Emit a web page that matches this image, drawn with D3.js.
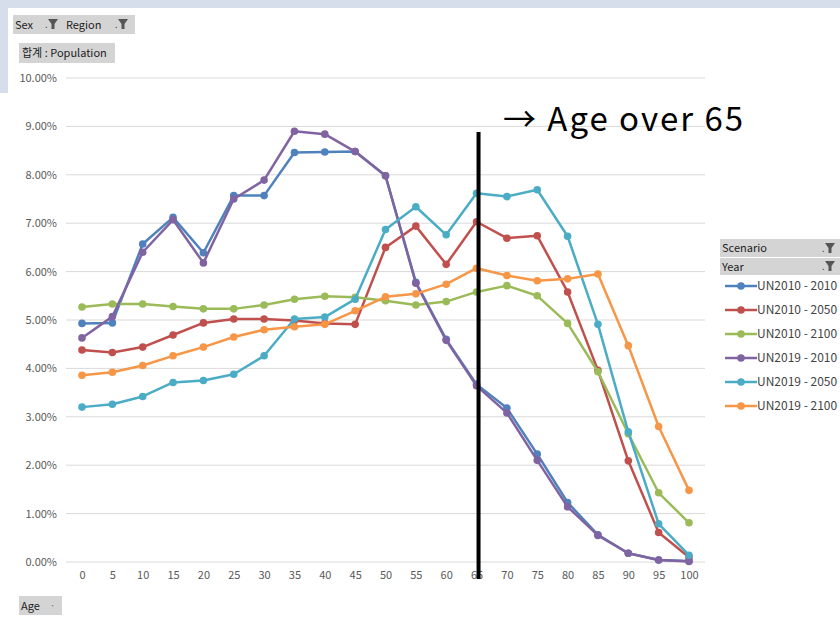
<!DOCTYPE html>
<html><head><meta charset="utf-8">
<script src="https://cdn.jsdelivr.net/npm/d3@7"></script>
<style>
body{margin:0;background:#fff;}
text{font-family:"Noto Sans CJK KR","Noto Sans",sans-serif;}
</style></head><body>
<svg id="chart" width="840" height="618"></svg>
<script>
const ages = [0,5,10,15,20,25,30,35,40,45,50,55,60,65,70,75,80,85,90,95,100];
const seriesNames = ["UN2010 - 2010","UN2010 - 2050","UN2010 - 2100","UN2019 - 2010","UN2019 - 2050","UN2019 - 2100"];
const seriesColors = ["#4F81BD","#C0504D","#9BBB59","#8064A2","#4BACC6","#F79646"];
const un2010_2010 = [4.93,4.94,6.57,7.12,6.39,7.57,7.57,8.46,8.47,8.48,7.98,5.78,4.60,3.67,3.18,2.23,1.23,0.56,0.18,0.04,0.02];
const un2010_2050 = [4.38,4.33,4.44,4.69,4.94,5.02,5.02,4.99,4.93,4.91,6.50,6.94,6.15,7.03,6.69,6.74,5.58,3.96,2.09,0.61,0.10];
const un2010_2100 = [5.27,5.33,5.33,5.28,5.23,5.23,5.31,5.43,5.49,5.47,5.40,5.31,5.38,5.58,5.71,5.50,4.93,3.93,2.65,1.43,0.81];
const un2019_2010 = [4.63,5.07,6.40,7.07,6.18,7.50,7.89,8.90,8.84,8.48,7.98,5.76,4.58,3.64,3.08,2.10,1.14,0.55,0.18,0.04,0.01];
const un2019_2050 = [3.20,3.26,3.42,3.71,3.75,3.88,4.26,5.02,5.06,5.43,6.87,7.34,6.76,7.62,7.55,7.69,6.73,4.91,2.69,0.79,0.14];
const un2019_2100 = [3.86,3.92,4.06,4.26,4.44,4.65,4.80,4.86,4.91,5.19,5.48,5.54,5.74,6.07,5.92,5.81,5.85,5.95,4.47,2.80,1.48];
const allSeries = [un2010_2010,un2010_2050,un2010_2100,un2019_2010,un2019_2050,un2019_2100];
const yTicks = [0,1,2,3,4,5,6,7,8,9,10];

const svg = d3.select("#chart");
// background frame
svg.append("rect").attr("x",0).attr("y",0).attr("width",840).attr("height",8).attr("fill","#d6deec");
svg.append("rect").attr("x",0).attr("y",0).attr("width",8).attr("height",93).attr("fill","#d6deec");

const x = d3.scalePoint().domain(ages).range([82,689]);
const y = d3.scaleLinear().domain([0,10]).range([562,78]);

// gridlines
svg.append("g").selectAll("line").data(yTicks).join("line")
  .attr("x1",66).attr("x2",705).attr("y1",d=>y(d)).attr("y2",d=>y(d))
  .attr("stroke","#d9d9d9").attr("stroke-width",1);

// y axis labels
const yAxis = d3.axisLeft(y).tickValues(yTicks).tickFormat(d=>d.toFixed(2)+"%").tickSize(0).tickPadding(0);
const gy = svg.append("g").attr("transform","translate(57,0)").call(yAxis);
gy.select(".domain").remove();
gy.selectAll("text").attr("fill","#595959").attr("font-size",11).style("font-family","'Noto Sans CJK KR',sans-serif");

// x axis labels
const xAxis = d3.axisBottom(x).tickSize(0).tickPadding(0);
const gx = svg.append("g").attr("transform","translate(0,571)").call(xAxis);
gx.select(".domain").remove();
gx.selectAll("text").attr("fill","#595959").attr("font-size",11).style("font-family","'Noto Sans CJK KR',sans-serif");

// series
const line = d3.line().x((d,i)=>x(ages[i])).y(d=>y(d));
allSeries.forEach((s,k)=>{
  const g = svg.append("g");
  g.append("path").datum(s).attr("d",line).attr("fill","none")
    .attr("stroke",seriesColors[k]).attr("stroke-width",2.5).attr("stroke-linejoin","round");
  g.selectAll("circle").data(s).join("circle")
    .attr("cx",(d,i)=>x(ages[i])).attr("cy",d=>y(d)).attr("r",3.8).attr("fill",seriesColors[k]);
});

// vertical marker line at 65
svg.append("line").attr("x1",x(65)+2).attr("x2",x(65)+2).attr("y1",132).attr("y2",579)
  .attr("stroke","#000").attr("stroke-width",4);
svg.append("text").attr("x",503).attr("y",131).attr("font-size",33).attr("fill","#000")
  .attr("textLength",240).attr("lengthAdjust","spacing")
  .style("font-family","'Noto Sans CJK KR',sans-serif").text("\u2192 Age over 65");

// filter buttons
function button(x0,y0,w,h,label){
  svg.append("rect").attr("x",x0).attr("y",y0).attr("width",w).attr("height",h).attr("fill","#d4d4d4");
  svg.append("text").attr("x",x0+3).attr("y",y0+h/2+4).attr("font-size",11).attr("fill","#222").text(label);
}
function funnel(cx,cy){
  svg.append("text").attr("x",cx-8).attr("y",cy+4).attr("font-size",9).attr("fill","#444").text(".");
  svg.append("path").attr("d",`M${cx-5},${cy-5}L${cx+5},${cy-5}L${cx+1.5},${cy}L${cx+1.5},${cy+5}L${cx-1.5},${cy+5}L${cx-1.5},${cy}Z`).attr("fill","#555");
}
svg.append("rect").attr("x",13).attr("y",15).attr("width",122).attr("height",19).attr("fill","#d4d4d4");
svg.append("text").attr("x",15).attr("y",29).attr("font-size",11).attr("fill","#222").text("Sex");
funnel(53,24);
svg.append("text").attr("x",66).attr("y",29).attr("font-size",11).attr("fill","#222").text("Region");
funnel(123,24);
button(19,43,96,20,"합계 : Population");
svg.append("rect").attr("x",19).attr("y",596).attr("width",43).attr("height",19).attr("fill","#d4d4d4");
svg.append("text").attr("x",21).attr("y",610).attr("font-size",11).attr("fill","#222").text("Age");
svg.append("text").attr("x",50).attr("y",609).attr("font-size",9).attr("fill","#666").text("·");

// legend
svg.append("rect").attr("x",720).attr("y",239).attr("width",120).attr("height",18).attr("fill","#d4d4d4");
svg.append("text").attr("x",722).attr("y",252).attr("font-size",11).attr("fill","#222").text("Scenario");
funnel(830,248);
svg.append("rect").attr("x",720).attr("y",258).attr("width",120).attr("height",17).attr("fill","#d4d4d4");
svg.append("text").attr("x",722).attr("y",271).attr("font-size",11).attr("fill","#222").text("Year");
funnel(830,266);
const leg = svg.append("g");
seriesNames.forEach((n,k)=>{
  const yy = 286 + k*24;
  leg.append("line").attr("x1",725).attr("x2",757).attr("y1",yy).attr("y2",yy).attr("stroke",seriesColors[k]).attr("stroke-width",2.5);
  leg.append("circle").attr("cx",741).attr("cy",yy).attr("r",3.8).attr("fill",seriesColors[k]);
  leg.append("text").attr("x",757).attr("y",yy+4).attr("font-size",12).attr("fill","#444").text(n);
});
</script></body></html>
